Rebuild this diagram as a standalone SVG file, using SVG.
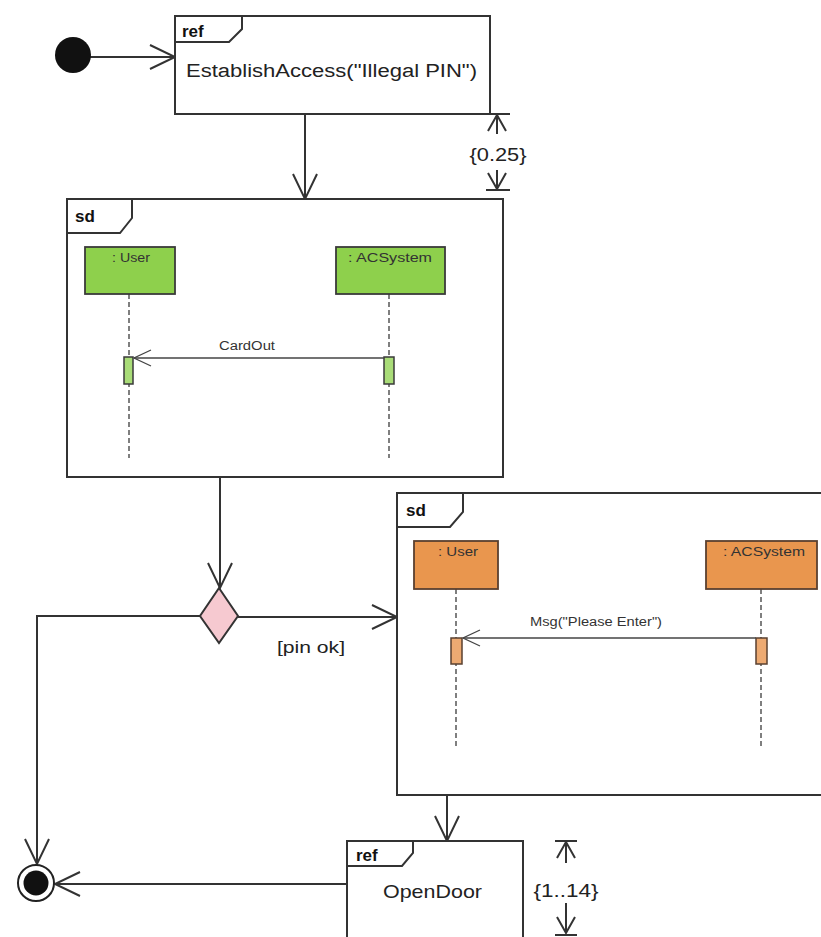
<svg xmlns="http://www.w3.org/2000/svg" width="821" height="937" viewBox="0 0 821 937">
<style>
  .frame { fill: #ffffff; stroke: #333333; stroke-width: 2; }
  .tab { fill: none; stroke: #333333; stroke-width: 2; }
  .conn { fill: none; stroke: #333333; stroke-width: 2; }
  .msg { fill: none; stroke: #444444; stroke-width: 1.3; }
  .life { fill: none; stroke: #555555; stroke-width: 1.5; stroke-dasharray: 5 3; }
  .green { fill: #8ED04C; stroke: #3a3a3a; stroke-width: 1.8; }
  .greenbar { fill: #A9DC78; stroke: #3a3a3a; stroke-width: 1.5; }
  .orange { fill: #E9964E; stroke: #5a4030; stroke-width: 1.8; }
  .orangebar { fill: #EDAA72; stroke: #5a4030; stroke-width: 1.5; }
  .t { font-family: "Liberation Sans", Arial, sans-serif; fill: #222222; }
  .kw { font-family: "Liberation Sans", Arial, sans-serif; font-weight: bold; font-size: 17px; fill: #111111; }
  .small { font-family: "Liberation Sans", Arial, sans-serif; font-size: 12px; fill: #333333; }
</style>
<defs>
  <marker id="open" markerUnits="userSpaceOnUse" markerWidth="30" markerHeight="30" refX="26" refY="13" orient="auto">
    <path d="M1,1 L26,13 L1,25" fill="none" stroke="#333333" stroke-width="2"/>
  </marker>
  <marker id="openSmall" markerUnits="userSpaceOnUse" markerWidth="22" markerHeight="20" refX="18" refY="9" orient="auto">
    <path d="M1,1 L18,9 L1,17" fill="none" stroke="#444444" stroke-width="1.3"/>
  </marker>
  <marker id="dur" markerUnits="userSpaceOnUse" markerWidth="20" markerHeight="24" refX="17" refY="10" orient="auto">
    <path d="M1,1 L17,10 L1,19" fill="none" stroke="#333333" stroke-width="2"/>
  </marker>
</defs>

<g id="connectors">
  <line class="conn" x1="90" y1="57" x2="175" y2="57" marker-end="url(#open)"/>
  <line class="conn" x1="305" y1="114" x2="305" y2="199" marker-end="url(#open)"/>
  <line class="conn" x1="220" y1="477" x2="220" y2="588" marker-end="url(#open)"/>
  <polyline class="conn" points="200,616 37,616 37,864" marker-end="url(#open)"/>
  <line class="conn" x1="238" y1="617" x2="397" y2="617" marker-end="url(#open)"/>
  <text class="t" x="277" y="653" font-size="16" textLength="68" lengthAdjust="spacingAndGlyphs">[pin ok]</text>
  <line class="conn" x1="447" y1="795" x2="447" y2="841" marker-end="url(#open)"/>
  <line class="conn" x1="347" y1="884" x2="55" y2="884" marker-end="url(#open)"/>
</g>

<g id="initial">
  <circle cx="73" cy="55" r="18" fill="#111111"/>
</g>

<g id="ref-establish">
  <rect class="frame" x="175" y="16" width="315" height="98"/>
  <path class="tab" d="M175,42 L229,42 L242,29 L242,16"/>
  <text class="kw" x="182" y="37">ref</text>
  <text class="t" x="186" y="77" font-size="18" textLength="291" lengthAdjust="spacingAndGlyphs">EstablishAccess("Illegal PIN")</text>
</g>

<g id="duration-1">
  <line class="conn" x1="486" y1="114" x2="510" y2="114"/>
  <line class="conn" x1="497" y1="134" x2="497" y2="115" marker-end="url(#dur)"/>
  <text class="t" x="498" y="161" font-size="18" text-anchor="middle" textLength="57" lengthAdjust="spacingAndGlyphs">{0.25}</text>
  <line class="conn" x1="497" y1="170" x2="497" y2="189" marker-end="url(#dur)"/>
  <line class="conn" x1="486" y1="190" x2="510" y2="190"/>
</g>

<g id="sd-cardout">
  <rect class="frame" x="67" y="199" width="436" height="278"/>
  <path class="tab" d="M67,233 L120,233 L132,218 L132,199"/>
  <text class="kw" x="75" y="222">sd</text>
  <line class="life" x1="129" y1="294" x2="129" y2="458"/>
  <line class="life" x1="389" y1="294" x2="389" y2="458"/>
  <rect class="green" x="85" y="247" width="90" height="47"/>
  <text class="small" x="131" y="262" text-anchor="middle" textLength="38" lengthAdjust="spacingAndGlyphs">: User</text>
  <rect class="green" x="336" y="247" width="109" height="47"/>
  <text class="small" x="390" y="262" text-anchor="middle" textLength="84" lengthAdjust="spacingAndGlyphs">: ACSystem</text>
  <rect class="greenbar" x="124" y="357" width="9" height="27"/>
  <rect class="greenbar" x="384" y="357" width="10" height="27"/>
  <line class="msg" x1="384" y1="358" x2="134" y2="358" marker-end="url(#openSmall)"/>
  <text class="small" x="247" y="350" text-anchor="middle" textLength="56" lengthAdjust="spacingAndGlyphs">CardOut</text>
</g>

<g id="decision">
  <polygon points="219,588 238,616 219,643 200,616" fill="#F6C9D0" stroke="#333333" stroke-width="2"/>
</g>

<g id="sd-please-enter">
  <rect class="frame" x="397" y="493" width="430" height="302"/>
  <path class="tab" d="M397,527 L450,527 L463,512 L463,493"/>
  <text class="kw" x="406" y="516">sd</text>
  <line class="life" x1="456" y1="589" x2="456" y2="749"/>
  <line class="life" x1="761" y1="589" x2="761" y2="749"/>
  <rect class="orange" x="414" y="541" width="84" height="48"/>
  <text class="small" x="458" y="556" text-anchor="middle" textLength="40" lengthAdjust="spacingAndGlyphs">: User</text>
  <rect class="orange" x="706" y="541" width="111" height="48"/>
  <text class="small" x="764" y="556" text-anchor="middle" textLength="82" lengthAdjust="spacingAndGlyphs">: ACSystem</text>
  <rect class="orangebar" x="451" y="638" width="11" height="26"/>
  <rect class="orangebar" x="756" y="638" width="11" height="26"/>
  <line class="msg" x1="756" y1="638" x2="463" y2="638" marker-end="url(#openSmall)"/>
  <text class="small" x="596" y="626" text-anchor="middle" textLength="132" lengthAdjust="spacingAndGlyphs">Msg("Please Enter")</text>
</g>

<g id="ref-opendoor">
  <rect class="frame" x="347" y="841" width="176" height="110"/>
  <path class="tab" d="M347,866 L402,866 L413,853 L413,841"/>
  <text class="kw" x="356" y="861">ref</text>
  <text class="t" x="383" y="898" font-size="19" textLength="99" lengthAdjust="spacingAndGlyphs">OpenDoor</text>
</g>

<g id="duration-2">
  <line class="conn" x1="555" y1="841" x2="577" y2="841"/>
  <line class="conn" x1="566" y1="863" x2="566" y2="842" marker-end="url(#dur)"/>
  <text class="t" x="566" y="897" font-size="18" text-anchor="middle" textLength="65" lengthAdjust="spacingAndGlyphs">{1..14}</text>
  <line class="conn" x1="566" y1="903" x2="566" y2="933" marker-end="url(#dur)"/>
  <line class="conn" x1="555" y1="935" x2="577" y2="935"/>
</g>

<g id="final">
  <circle cx="36" cy="883" r="18" fill="#ffffff" stroke="#222222" stroke-width="2"/>
  <circle cx="36" cy="883" r="12.5" fill="#111111"/>
</g>
</svg>
